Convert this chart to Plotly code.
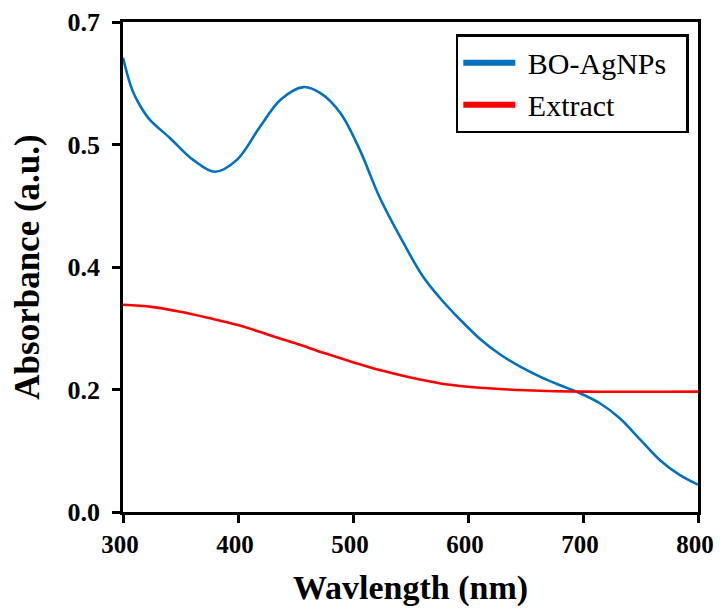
import plotly.graph_objects as go

# Wavelength (nm) and absorbance values
blue_x = [300, 308, 315, 323, 341, 361, 380, 399, 419, 437, 457, 472, 489, 506, 523,
          541, 561, 576, 593, 610, 628, 645, 663, 680, 697, 715, 732, 750, 767, 784, 800]
blue_y = [0.649, 0.603, 0.580, 0.561, 0.534, 0.503, 0.486, 0.503, 0.550, 0.589, 0.607,
          0.598, 0.570, 0.517, 0.450, 0.393, 0.336, 0.305, 0.275, 0.248, 0.225, 0.208,
          0.193, 0.181, 0.170, 0.155, 0.134, 0.103, 0.074, 0.053, 0.039]

red_x = [300, 325, 350, 375, 400, 425, 450, 475, 500, 525, 550, 575, 600, 625, 650, 700, 800]
red_y = [0.296, 0.293, 0.286, 0.277, 0.267, 0.254, 0.241, 0.227, 0.214, 0.202, 0.192,
         0.184, 0.179, 0.176, 0.174, 0.172, 0.172]

y_tickvals = [0.0, 0.175, 0.35, 0.525, 0.7]
y_ticktext = ["0.0", "0.2", "0.4", "0.5", "0.7"]
x_tickvals = [300, 400, 500, 600, 700, 800]

series_names = ["BO-AgNPs", "Extract"]
series_colors = ["#0070C0", "#FF0000"]

serif = "Liberation Serif, Times New Roman, serif"

fig = go.Figure()
for xs, ys, name, color in [(blue_x, blue_y, series_names[0], series_colors[0]),
                            (red_x, red_y, series_names[1], series_colors[1])]:
    fig.add_trace(go.Scatter(x=xs, y=ys, mode="lines", name=name, showlegend=False,
                             legendgroup=name,
                             line=dict(color=color, width=2.6, shape="spline", smoothing=1.0)))
# legend entries with thicker key lines
for name, color in zip(series_names, series_colors):
    fig.add_trace(go.Scatter(x=[None], y=[None], mode="lines",
                             name="\u00a0" + name + "\u00a0\u00a0",
                             legendgroup=name, line=dict(color=color, width=6)))

axis_common = dict(showline=True, linecolor="black", linewidth=2.5, mirror=True,
                   ticks="outside", ticklen=8, tickwidth=2.5, tickcolor="black",
                   showgrid=False, zeroline=False, automargin=False,
                   ticklabeloverflow="allow")

# page body adds an 8px margin; the figure is sized so the page does not overflow
# and the plot area lands where it is in the reference
fig.update_layout(
    width=706, height=599,
    margin=dict(l=115, r=16, t=14, b=95),
    paper_bgcolor="white", plot_bgcolor="white",
    xaxis=dict(range=[300, 800], tickvals=x_tickvals, ticklabelshift=-3,
               tickfont=dict(family=serif, size=25, color="black", weight="bold"),
               title=dict(text="<b>Wavlength (nm)</b>", standoff=22,
                          font=dict(family=serif, size=34, color="black")),
               **axis_common),
    yaxis=dict(range=[0, 0.7], tickvals=y_tickvals, ticktext=y_ticktext,
               ticklabelstandoff=7,
               tickfont=dict(family=serif, size=26, color="black", weight="bold"),
               title=dict(text="<b>Absorbance (a.u.)</b>", standoff=22,
                          font=dict(family=serif, size=35, color="black")),
               **axis_common),
    legend=dict(x=0.984, y=0.975, xanchor="right", yanchor="top",
                bordercolor="black", borderwidth=2.5, bgcolor="white",
                font=dict(family=serif, size=30, color="black"),
                itemwidth=52, tracegroupgap=0),
    showlegend=True,
)

fig.write_html("out.html")
